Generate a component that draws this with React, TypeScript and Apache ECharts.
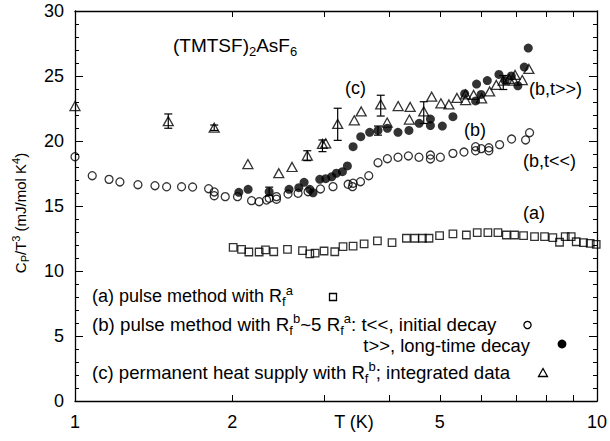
import React, { useEffect, useRef } from 'react';
import * as echarts from 'echarts';

// (b) pulse method, t<< initial decay (open circles)
const openT = [1.00, 1.079, 1.162, 1.219, 1.320, 1.423, 1.498, 1.600, 1.680, 1.803, 1.848, 1.848, 1.940, 2.048, 2.179, 2.253, 2.328, 2.355, 2.432, 2.432, 2.559, 2.675, 2.796, 2.953, 3.121, 3.336, 3.401, 3.410, 3.523, 3.654, 3.806, 3.967, 4.157, 4.352, 4.560, 4.796, 4.796, 5.011, 5.297, 5.561, 5.854, 5.854, 6.003, 6.207, 6.207, 6.508, 6.861, 7.298, 7.427];
const openV = [18.79, 17.33, 17.05, 16.85, 16.64, 16.56, 16.48, 16.48, 16.46, 16.33, 16.08, 15.79, 15.72, 15.72, 15.41, 15.33, 15.46, 15.59, 15.52, 15.72, 15.92, 15.98, 16.10, 16.31, 16.49, 16.67, 16.49, 16.75, 16.87, 17.33, 18.33, 18.64, 18.75, 18.85, 18.75, 18.92, 18.62, 18.75, 19.05, 19.15, 19.56, 19.25, 19.41, 19.25, 19.48, 19.72, 20.15, 20.08, 20.64];

// (b) pulse method, t>> long-time decay (filled circles)
const filledT = [2.060, 2.146, 2.355, 2.571, 2.684, 2.747, 2.817, 2.858, 2.944, 3.022, 3.103, 3.168, 3.253, 3.325, 3.410, 3.527, 3.669, 3.806, 3.967, 4.157, 4.363, 4.564, 4.796, 4.796, 5.055, 5.297, 5.578, 5.854, 5.879, 5.998, 6.164, 6.489, 6.668, 6.853, 7.054, 7.256, 7.385];
const filledV = [16.05, 16.28, 16.10, 16.28, 16.41, 16.82, 16.28, 16.02, 17.05, 17.10, 17.25, 17.52, 17.64, 18.08, 19.56, 20.33, 20.67, 20.81, 20.98, 20.67, 20.81, 21.36, 21.69, 21.19, 21.15, 21.87, 23.64, 23.08, 24.38, 23.58, 24.65, 25.12, 24.65, 25.00, 24.25, 25.69, 27.15];

// (c) permanent heat supply, integrated data (triangles)
const triT = [1.00, 1.509, 1.848, 2.144, 2.457, 2.605, 2.786, 2.979, 3.022, 3.186, 3.428, 3.534, 3.852, 3.963, 4.160, 4.386, 4.371, 4.657, 4.823, 5.023, 5.204, 5.391, 5.602, 5.602, 5.803, 6.011, 6.228, 6.413, 6.614, 6.786, 6.967, 6.930, 7.193, 7.405];
const triV = [22.69, 21.52, 21.02, 18.23, 17.52, 18.00, 18.88, 19.77, 19.82, 21.31, 21.59, 22.27, 22.81, 21.42, 22.69, 22.62, 21.65, 22.27, 23.41, 22.90, 22.81, 23.31, 23.59, 23.15, 23.54, 23.28, 23.81, 24.31, 24.65, 24.77, 25.08, 24.65, 24.69, 25.54];

// error bars
const errT = [1.509, 1.848, 2.786, 2.979, 3.186, 3.852, 4.657, 6.614, 2.355, 3.806];
const errLow = [20.98, 20.81, 18.49, 19.18, 20.05, 21.92, 21.35, 23.96, 15.80, 20.45];
const errHigh = [22.08, 21.23, 19.25, 20.08, 22.52, 23.52, 23.02, 25.04, 16.45, 21.15];

// (a) pulse method (squares)
const sqT = [2.009, 2.085, 2.153, 2.253, 2.317, 2.403, 2.553, 2.728, 2.817, 2.884, 3.000, 3.145, 3.262, 3.410, 3.580, 3.796, 4.049, 4.314, 4.475, 4.630, 4.766, 4.994, 5.297, 5.620, 5.896, 6.180, 6.460, 6.704, 6.952, 7.233, 7.592, 7.935, 8.230, 8.477, 8.692, 8.925, 9.125, 9.423, 9.705, 9.965];
const sqV = [11.82, 11.67, 11.46, 11.46, 11.62, 11.48, 11.67, 11.56, 11.31, 11.38, 11.54, 11.48, 11.87, 11.92, 12.08, 12.31, 12.18, 12.52, 12.52, 12.52, 12.52, 12.72, 12.85, 12.77, 12.95, 12.95, 12.95, 12.77, 12.77, 12.72, 12.64, 12.64, 12.56, 12.21, 12.64, 12.64, 12.25, 12.18, 12.13, 12.05];

const xTickValues = [1, 2, 3, 4, 5, 6, 7, 8, 9, 10];
const xLabelValues = [1, 2, 5, 10];
const yMin = 0;
const yMax = 30;
const yInterval = 5;

const FONT = '"Liberation Sans", Arial, Helvetica, sans-serif';

export default function App() {
  const ref = useRef<HTMLDivElement>(null);
  useEffect(() => {
    const chart = echarts.init(ref.current as HTMLDivElement, null, { renderer: 'svg' });
    const zip = (a: number[], b: number[]) => a.map((t, i) => [t, b[i]]);
    const mkRich = (fs: number) => {
      const ss = Math.round(fs * 0.7);
      return {
        n: { fontSize: fs, fontFamily: FONT, fill: '#000', lineHeight: Math.round(fs * 1.35) },
        sub: { fontSize: ss, fontFamily: FONT, fill: '#000', verticalAlign: 'bottom', lineHeight: ss },
        sup: { fontSize: ss, fontFamily: FONT, fill: '#000', verticalAlign: 'top', lineHeight: ss },
      };
    };
    const txt = (x: number, y: number, text: string, align = 'left', fs = 18, extra: any = {}) => ({
      type: 'text',
      x,
      y,
      silent: true,
      ...extra,
      style: {
        text,
        rich: mkRich(fs),
        fontSize: fs,
        fontFamily: FONT,
        fill: '#000',
        align,
        verticalAlign: 'middle',
        lineHeight: Math.round(fs * 1.35),
      },
    });
    const stroke = { stroke: '#000', lineWidth: 1.3, fill: 'rgba(255,255,255,0)' };

    const axisLineStyle = { lineStyle: { color: '#000', width: 1.3 } };
    const xAxisBase = {
      type: 'log',
      logBase: 10,
      min: 1,
      max: 10,
      axisLine: { show: true, onZero: false, ...axisLineStyle },
      axisTick: { show: true, inside: true, length: 6, customValues: xTickValues, lineStyle: { color: '#000', width: 1 } },
      splitLine: { show: false },
      minorTick: { show: false },
    };
    const yAxisBase = {
      type: 'value',
      min: yMin,
      max: yMax,
      interval: yInterval,
      axisLine: { show: true, ...axisLineStyle },
      axisTick: { show: true, inside: true, length: 8, lineStyle: { color: '#000', width: 1 } },
      minorTick: { show: true, splitNumber: 5, length: 4, lineStyle: { color: '#000', width: 1 } },
      splitLine: { show: false },
    };

    const option: any = {
      animation: false,
      backgroundColor: '#fff',
      grid: { left: 75, right: 12, top: 11, bottom: 40, containLabel: false },
      xAxis: [
        {
          ...xAxisBase,
          position: 'bottom',
          axisLabel: {
            show: true,
            customValues: xLabelValues,
            formatter: (v: number) => String(Math.round(v)),
            fontSize: 18,
            fontFamily: FONT,
            color: '#000',
            margin: 12,
          },
        },
        { ...xAxisBase, position: 'top', axisLabel: { show: false } },
      ],
      yAxis: [
        {
          ...yAxisBase,
          position: 'left',
          axisLabel: { show: true, fontSize: 18, fontFamily: FONT, color: '#000', margin: 11 },
        },
        { ...yAxisBase, position: 'right', axisLabel: { show: false } },
      ],
      series: [
        {
          type: 'scatter',
          name: '(a)',
          data: zip(sqT, sqV),
          symbol: 'rect',
          symbolSize: 7.5,
          itemStyle: { color: 'rgba(255,255,255,0)', borderColor: '#000', borderWidth: 1.3 },
          z: 2,
        },
        {
          type: 'scatter',
          name: '(b,t<<)',
          data: zip(openT, openV),
          symbol: 'circle',
          symbolSize: 8,
          itemStyle: { color: 'rgba(255,255,255,0)', borderColor: '#000', borderWidth: 1.3 },
          z: 2,
        },
        {
          type: 'scatter',
          name: '(c)',
          data: zip(triT, triV),
          symbol: 'triangle',
          symbolSize: [10, 9],
          itemStyle: { color: 'rgba(255,255,255,0)', borderColor: '#000', borderWidth: 1.3 },
          z: 2,
        },
        {
          type: 'scatter',
          name: '(b,t>>)',
          data: zip(filledT, filledV),
          symbol: 'circle',
          symbolSize: 9,
          itemStyle: { color: '#000' },
          z: 3,
        },
        {
          type: 'custom',
          name: 'err',
          data: errT.map((t, i) => [t, errLow[i], errHigh[i]]),
          encode: { x: 0, y: [1, 2] },
          z: 4,
          renderItem: (params: any, api: any) => {
            const lo = api.coord([api.value(0), api.value(1)]);
            const hi = api.coord([api.value(0), api.value(2)]);
            const w = 4;
            const st = { stroke: '#000', lineWidth: 1.2 };
            return {
              type: 'group',
              children: [
                { type: 'line', shape: { x1: lo[0], y1: lo[1], x2: hi[0], y2: hi[1] }, style: st },
                { type: 'line', shape: { x1: lo[0] - w, y1: lo[1], x2: lo[0] + w, y2: lo[1] }, style: st },
                { type: 'line', shape: { x1: hi[0] - w, y1: hi[1], x2: hi[0] + w, y2: hi[1] }, style: st },
              ],
            };
          },
        },
      ],
      graphic: [
        // y axis title
        txt(20, 213, '{n|C}{sub|P}{n|/T}{sup|3}{n| (mJ/mol K}{sup|4}{n|)}', 'center', 15, { rotation: Math.PI / 2 }),
        // x axis title
        txt(354, 422, '{n|T (K)}', 'center'),
        // annotations
        txt(173, 45, '{n|(TMTSF)}{sub|2}{n|AsF}{sub|6}', 'left', 19),
        txt(345, 88, '{n|(c)}'),
        txt(464, 130, '{n|(b)}'),
        txt(529, 89, '{n|(b,t>>)}'),
        txt(523, 161, '{n|(b,t<<)}'),
        txt(523, 213, '{n|(a)}'),
        // legend
        txt(92, 296, '{n|(a) pulse method with R}{sub|f}{sup|a}'),
        txt(92, 324, '{n|(b) pulse method with R}{sub|f}{sup|b}{n|~5 R}{sub|f}{sup|a}{n|: t<<, initial decay}', 'left', 18.7),
        txt(530, 345, '{n|t>>, long-time decay}', 'right', 18.4),
        txt(92, 372, '{n|(c) permanent heat supply with R}{sub|f}{sup|b}{n|; integrated data}', 'left', 18.6),
        // legend markers
        { type: 'rect', silent: true, shape: { x: 329.5, y: 293.5, width: 7, height: 7 }, style: stroke },
        { type: 'circle', silent: true, shape: { cx: 527.5, cy: 325, r: 3.6 }, style: stroke },
        { type: 'circle', silent: true, shape: { cx: 562, cy: 344, r: 4.4 }, style: { fill: '#000' } },
        { type: 'polygon', silent: true, shape: { points: [[543, 368.5], [547.5, 376.5], [538.5, 376.5]] }, style: stroke },
      ],
    };
    chart.setOption(option);
    return () => chart.dispose();
  }, []);
  return <div ref={ref} style={{ position: 'fixed', left: 0, top: 0, width: 610, height: 441 }} />;
}
